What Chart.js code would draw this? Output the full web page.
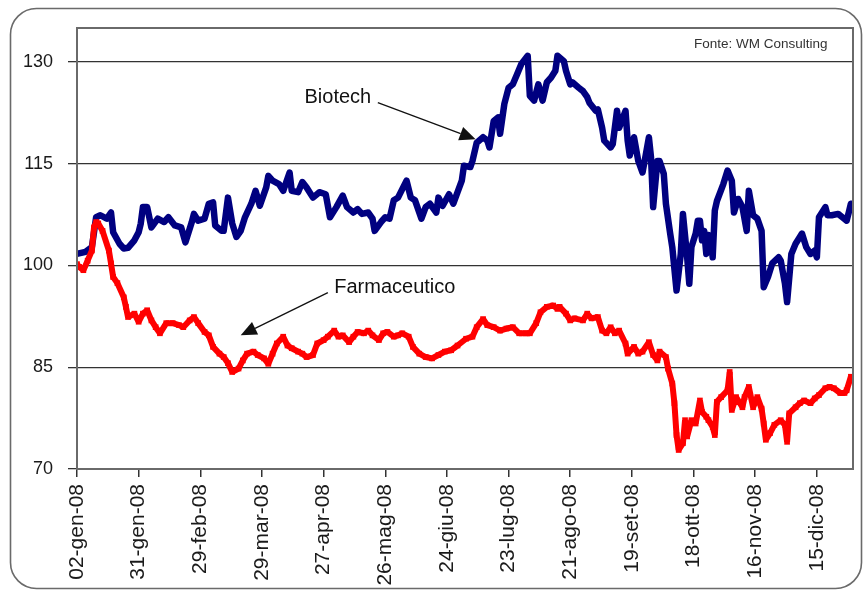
<!DOCTYPE html>
<html><head><meta charset="utf-8">
<script src="https://cdn.jsdelivr.net/npm/chart.js@4"></script>
<style>html,body{margin:0;padding:0;background:#fff}#wrap{width:864px;height:591px}</style>
</head><body><div id="wrap"><canvas id="c" width="864" height="591"></canvas></div>
<script>
// X tick labels (one every 29 calendar days from 02-gen-08)
const tickLabels = ['02-gen-08','31-gen-08','29-feb-08','29-mar-08','27-apr-08','26-mag-08','24-giu-08','23-lug-08','21-ago-08','19-set-08','18-ott-08','16-nov-08','15-dic-08'];
const tickDays = [0,29,58,87,116,145,174,203,232,261,290,319,348];
const yTicks = [70,85,100,115,130];

// Biotech: day offsets from 02-gen-08 and index values
const biotechDays = [0,4,7,9,11,14,16,17,20,22,24,27,29,30,31,33,35,38,41,43,46,49,51,54,55,57,60,62,64,65,68,69,71,73,75,77,79,82,84,86,89,90,92,95,97,100,101,104,106,108,111,114,117,119,122,125,127,130,132,134,137,139,140,143,145,147,149,151,155,157,159,162,164,166,169,170,172,175,177,179,181,182,185,186,188,191,193,194,196,198,199,201,203,205,207,209,212,213,215,217,219,221,223,225,226,229,230,232,233,236,238,240,241,244,245,247,248,251,252,254,255,258,259,260,262,264,266,267,269,270,271,273,274,276,277,279,280,282,284,285,287,288,289,291,292,293,294,295,296,297,298,299,300,301,304,306,308,309,311,313,315,316,318,320,322,323,325,327,330,331,333,334,336,338,340,341,343,345,347,348,349,352,353,355,358,360,362,363,364];
const biotechValues = [101.7,102,102.7,107.1,107.4,106.9,107.8,104.9,103.2,102.5,102.6,103.7,104.9,106.2,108.6,108.6,105.6,106.9,106.4,107.1,105.9,105.6,103.4,106.4,107.6,106.6,106.9,109.1,109.3,105.9,105.1,105.1,110,106.2,104.2,105.1,107.1,109.1,111,108.8,111.5,113.2,112.5,112,111,113.7,111,110.8,112.3,111.5,110,110.8,110.5,107.1,108.6,110.3,108.6,107.8,108.3,107.6,107.8,106.9,105.1,106.4,107.1,106.9,109.6,110,112.5,110,109.6,106.9,108.6,109.1,107.8,110,108.8,110.5,109.1,110.8,112.5,114.7,114.5,115.4,118.1,118.9,118.4,117.4,121.3,121.8,119.4,123.8,126.2,126.7,128.2,129.7,130.9,125,124.3,126.7,124.3,127,127.7,128.7,130.9,130.1,128.7,126.7,127,126.2,125.7,124.8,124,122.8,123,120.3,118.4,117.4,117.9,122.8,120.3,122.8,118.4,116.2,118.9,115.4,113.7,115.4,118.9,115.9,108.6,115.4,115.4,113.5,109.1,104.7,102.7,96.3,101.7,107.6,101.2,97.3,102.7,104.7,106.6,106.6,103.7,105.1,101.7,104.5,103.9,101.2,108.1,109.5,112,114,112.5,107.8,109.8,108.6,105.1,111,107.4,106.9,105.1,96.8,98.3,100.3,101.2,100.7,97.3,94.6,101.7,103.2,104.2,104.7,102.7,101.7,102.2,101.2,107.1,108.6,107.4,107.4,107.6,107.1,106.6,107.8,109.1];

// Farmaceutico
const farmaDays = [0,1,3,5,7,8,9,10,12,15,16,17,19,22,23,24,27,29,31,33,35,37,39,42,45,48,50,53,55,57,60,62,64,67,69,71,73,76,78,80,83,85,88,90,92,94,97,99,101,104,106,108,111,113,116,118,121,123,125,128,130,132,135,137,139,142,144,146,149,151,153,156,158,161,164,167,170,173,176,179,183,186,188,191,193,196,199,202,205,208,211,213,216,218,221,224,226,227,230,232,234,238,240,242,245,247,249,251,253,255,258,259,262,264,266,269,271,273,274,277,278,280,281,282,283,285,286,287,289,291,293,294,296,297,299,300,301,303,306,307,308,310,313,314,316,318,320,322,323,324,326,328,331,333,334,335,338,340,342,345,347,349,352,354,356,359,361,362,364];
const farmaValues = [100.2,99.8,99.3,100.7,102.2,105.6,106.4,106.2,105.1,102.2,100.3,98.3,97.4,95.3,93.9,92.4,92.9,91.7,92.9,93.4,91.9,90.9,90,91.5,91.5,91.2,90.9,91.9,92.4,91.5,90.2,89.7,88,87,86.5,85.6,84.3,84.8,86,87,87.3,86.8,86.3,85.5,87,88.5,89.5,88.2,87.8,87.3,87,86.5,86.8,88.5,89,89.5,90.4,89.5,89.7,88.7,89.5,90.2,90,90.4,89.7,89,90,90.2,89.5,89.7,90,89.5,88,87,86.5,86.3,86.8,87.3,87.5,88.2,89.2,89.5,90.9,92.1,91.2,90.9,90.4,90.7,90.9,90,90,90,91.5,93.1,93.9,94.1,93.6,93.9,92.9,91.9,92.2,91.9,92.9,92.2,92.4,90.4,90,90.9,90,90.4,88.5,87,88,87,87.3,88.7,86.8,86,87.3,86.5,84.8,82.6,79.7,75,72.8,73.8,77.2,74.8,77.2,76.7,80.1,78.4,77.7,77.2,76.2,75,79.9,80.6,81.6,84.3,78.7,80.6,79.1,80.6,82.1,79.1,80.6,78.9,76.7,74.3,75.3,76.5,77.2,76.5,74,78.2,79.1,79.7,80.1,79.7,80.4,80.9,81.9,82.1,81.9,81.2,81.2,81.6,83.6];

const toXY = (d, v) => d.map((x, i) => ({x, y: v[i]}));

const notes = [
  {text: 'Biotech', tx: 107, ty: 124.7, fx: 141.5, fy: 124.0, hx: 187.5, hy: 118.6},
  {text: 'Farmaceutico', tx: 121, ty: 96.8, fx: 118, fy: 96.0, hx: 77, hy: 89.7}
];
const sourceNote = {text: 'Fonte: WM Consulting', x: 353, y: 132.6};

const framePlugin = {
  id: 'frame',
  beforeDraw(chart) {
    const ctx = chart.ctx;
    ctx.save();
    ctx.fillStyle = '#fff';
    ctx.fillRect(0, 0, chart.width, chart.height);
    ctx.strokeStyle = '#6a6a6a';
    ctx.lineWidth = 1.6;
    ctx.beginPath();
    ctx.roundRect(10.5, 8.5, chart.width - 13, chart.height - 11, 26);
    ctx.stroke();
    ctx.restore();
  },
  afterDatasetsDraw(chart) {
    const ctx = chart.ctx, xs = chart.scales.x, ys = chart.scales.y, a = chart.chartArea;
    ctx.save();
    ctx.strokeStyle = '#6a6a6a';
    ctx.lineWidth = 2;
    ctx.strokeRect(a.left, a.top, a.right - a.left, a.bottom - a.top);
    ctx.fillStyle = '#111';
    ctx.strokeStyle = '#111';
    ctx.font = '20px "Liberation Sans", Arial, sans-serif';
    ctx.textBaseline = 'middle';
    notes.forEach(n => {
      ctx.fillStyle = '#111';
      ctx.fillText(n.text, xs.getPixelForValue(n.tx), ys.getPixelForValue(n.ty));
      const x1 = xs.getPixelForValue(n.fx), y1 = ys.getPixelForValue(n.fy);
      const x2 = xs.getPixelForValue(n.hx), y2 = ys.getPixelForValue(n.hy);
      const ang = Math.atan2(y2 - y1, x2 - x1);
      const L = 16, W = 7;
      const bx = x2 - L * Math.cos(ang), by = y2 - L * Math.sin(ang);
      ctx.lineWidth = 1.3;
      ctx.beginPath(); ctx.moveTo(x1, y1); ctx.lineTo(bx, by); ctx.stroke();
      ctx.beginPath();
      ctx.moveTo(x2, y2);
      ctx.lineTo(bx + W * Math.sin(ang), by - W * Math.cos(ang));
      ctx.lineTo(bx - W * Math.sin(ang), by + W * Math.cos(ang));
      ctx.closePath(); ctx.fill();
    });
    ctx.font = '13.5px "Liberation Sans", Arial, sans-serif';
    ctx.fillStyle = '#333';
    ctx.textAlign = 'right';
    ctx.fillText(sourceNote.text, xs.getPixelForValue(sourceNote.x), ys.getPixelForValue(sourceNote.y));
    ctx.restore();
  }
};

new Chart(document.getElementById('c'), {
  type: 'line',
  data: {
    datasets: [
      {label: 'Farmaceutico', data: toXY(farmaDays, farmaValues), borderColor: '#ff0000', backgroundColor: '#ff0000',
       borderWidth: 6, pointStyle: 'rect', pointRadius: 4, pointBorderWidth: 0, tension: 0, order: 0,
       borderJoinStyle: 'bevel', borderCapStyle: 'butt'},
      {label: 'Biotech', data: toXY(biotechDays, biotechValues), borderColor: '#000080', backgroundColor: '#000080',
       borderWidth: 6.5, pointRadius: 0, tension: 0, order: 1, borderJoinStyle: 'round', borderCapStyle: 'round'}
    ]
  },
  options: {
    responsive: false,
    animation: false,
    layout: {padding: {left: 20, top: 28, right: 11, bottom: 0}},
    plugins: {legend: {display: false}, tooltip: {enabled: false}},
    scales: {
      x: {
        type: 'linear', min: 0, max: 365,
        afterBuildTicks: s => { s.ticks = tickDays.map(v => ({value: v})); },
        afterFit: s => { s.height = 122; },
        grid: {drawOnChartArea: false, drawTicks: true, tickLength: 8, color: '#333', lineWidth: 1.5},
        border: {display: true, color: '#555', width: 2},
        ticks: {autoSkip: false, minRotation: 90, maxRotation: 90, padding: 7, color: '#1a1a1a',
                font: {family: '"Liberation Sans", Arial, sans-serif', size: 21},
                callback: v => tickLabels[tickDays.indexOf(v)]}
      },
      y: {
        min: 70, max: 135,
        afterBuildTicks: s => { s.ticks = yTicks.map(v => ({value: v})); },
        afterFit: s => { s.width = 57; },
        grid: {drawOnChartArea: true, drawTicks: true, tickLength: 9, color: '#333', lineWidth: 1.3},
        border: {display: true, color: '#555', width: 2},
        ticks: {padding: 15, color: '#1a1a1a', font: {family: '"Liberation Sans", Arial, sans-serif', size: 18}}
      }
    }
  },
  plugins: [framePlugin]
});
</script></body></html>
